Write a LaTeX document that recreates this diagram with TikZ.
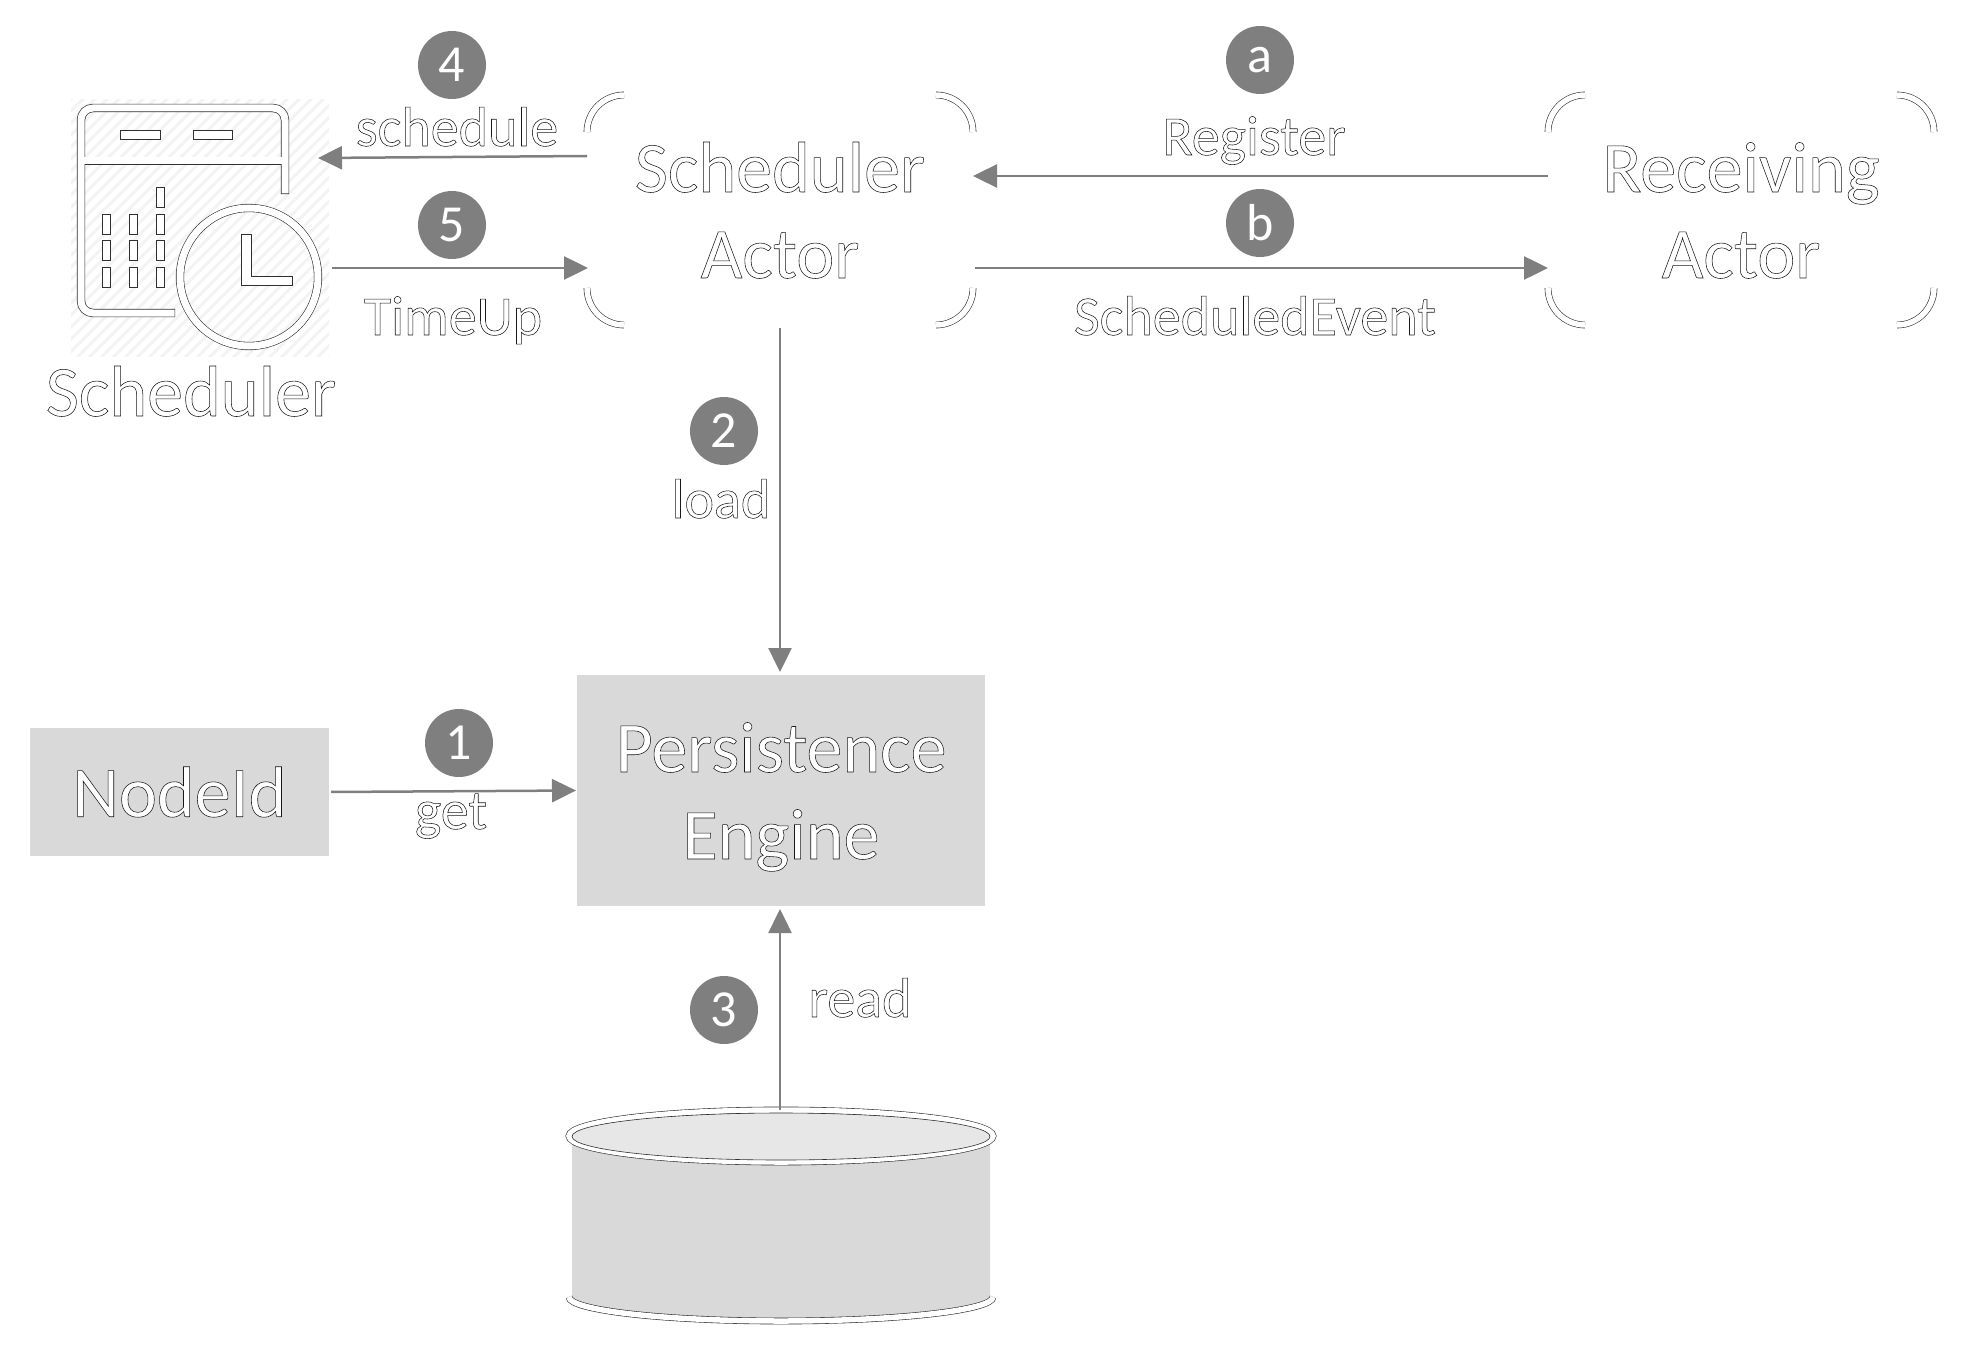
\documentclass[tikz,border=0pt]{standalone}
\usepackage{fontspec}
\setmainfont{Carlito}
\usepackage{xcolor}
\usetikzlibrary{positioning,arrows.meta,patterns.meta}

\definecolor{flowgray}{HTML}{7F7F7F}
\definecolor{boxgray}{HTML}{D9D9D9}
\definecolor{lidgray}{HTML}{E7E7E7}
\definecolor{inkline}{HTML}{303030}
\definecolor{hatchgray}{HTML}{F3F3F3}

\newcommand{\outl}[1]{\special{pdf:code q 2 Tr 0.55 w 0.1 0.1 0.1 RG 1 1 1 rg}#1\special{pdf:code Q}}
\newcommand{\lowline}[1]{\raisebox{-25pt}[0pt][0pt]{\outl{#1}}}
\newcommand{\actorcorners}[1]{%
    \foreach \cname/\sx/\sy/\astart in {north west/0/-37/180, north east/-37/0/90, south east/0/37/0, south west/37/0/270}
        \draw[band] ([shift={(\sx,\sy)}]#1.\cname) arc[start angle=\astart, delta angle=-90, radius=37];
}

\begin{document}
\begin{tikzpicture}[
    x=1pt, y=1pt,
    band/.style={draw=inkline, line width=0.6pt, double=white, double distance=5.5pt},
    thinbox/.style={draw=inkline, line width=0.7pt, fill=white},
    actor/.style={rectangle, minimum width=386pt, minimum height=230pt, align=center, inner sep=0pt, outer sep=0pt, font=\fontsize{72}{86}\selectfont},
    greybox/.style={rectangle, fill=boxgray, align=center, inner sep=0pt, outer sep=0pt, font=\fontsize{72}{86}\selectfont},
    msg/.style={anchor=base, inner sep=0pt, font=\fontsize{56}{66}\selectfont},
    badge/.style={circle, fill=flowgray, text=white, minimum size=68pt, inner sep=0pt, font=\fontsize{52}{60}\selectfont},
    flow/.style={draw=flowgray, line width=2.5pt, -{Triangle[length=24pt,width=23pt]}},
]
    \useasboundingbox (0,0) rectangle (1961,-1348);

    \node[actor] (schedActor) at (780,-210) {\lowline{Scheduler}\\\lowline{Actor}};
    \node[actor, right=575pt of schedActor] (recvActor) {\lowline{Receiving}\\\lowline{Actor}};
    \node[greybox, minimum width=408pt, minimum height=231pt, below=350pt of schedActor, xshift=1pt] (engine) {\lowline{Persistence}\\[1pt]\lowline{Engine}};
    \node[greybox, minimum width=299pt, minimum height=128pt, left=248pt of engine, yshift=-1.5pt] (nodeId) {\outl{NodeId}};
    \node[minimum width=258pt, minimum height=256pt, inner sep=0pt, outer sep=0pt, pattern={Lines[angle=45,distance=8.5pt,line width=3pt]}, pattern color=hatchgray] (schedIcon) at (200,-228) {};
    \node[minimum width=418pt, minimum height=208pt, inner sep=0pt, outer sep=0pt] (store) at (781,-1214) {};

    \actorcorners{schedActor}
    \actorcorners{recvActor}

    \foreach \bandcol/\bandw in {inkline/8.4, white/7} {
        \draw[draw=\bandcol, line width=\bandw pt, line cap=rect, rounded corners=12pt] (171,-313) -- (81,-313) -- (81,-108) -- (285,-108) -- (285,-190);
        \draw[draw=\bandcol, line width=\bandw pt] (81,-161) -- (285,-161);
    }
    \draw[thinbox] (120,-130) rectangle (160,-139);
    \draw[thinbox] (193,-130) rectangle (232,-139);
    \draw[thinbox] (156,-187) rectangle (164.5,-207);
    \foreach \barx in {102,129,156}
        \foreach \bary in {214,240,267}
            \draw[thinbox] (\barx,-\bary) rectangle ++(8.5,-20);
    \draw[band, double distance=7pt] (249,-277) circle[radius=69];
    \draw[thinbox] (241,-234) -- (251,-234) -- (251,-276) -- (292,-276) -- (292,-285) -- (241,-285) -- cycle;

    \fill[boxgray] (572,-1135) -- (572,-1297) arc[start angle=180, end angle=360, x radius=209, y radius=21] -- (990,-1135) -- cycle;
    \draw[band] (781,-1136) ellipse[x radius=212, y radius=26];
    \fill[lidgray] (781,-1136.5) ellipse[x radius=209, y radius=23.5];
    \draw[inkline, line width=0.6pt] (781,-1136.5) ellipse[x radius=209, y radius=23.5];
    \draw[band] (569,-1297) arc[start angle=180, end angle=360, x radius=212, y radius=24];

    \draw[flow] ([yshift=54pt]schedActor.west) -- ([xshift=-11pt,yshift=70pt]schedIcon.east);
    \draw[flow, shorten >=-1pt] ([xshift=3pt,yshift=-40pt]schedIcon.east) -- ([yshift=-58pt]schedActor.west);
    \draw[flow] ([yshift=34pt]recvActor.west) -- ([yshift=34pt]schedActor.east);
    \draw[flow, shorten <=2pt] ([yshift=-58pt]schedActor.east) -- ([yshift=-58pt]recvActor.west);
    \draw[flow, shorten <=3pt, shorten >=3pt] (schedActor.south) -- ([xshift=-1pt]engine.north);
    \draw[flow, shorten <=2pt, shorten >=1pt] (nodeId.east) -- (engine.west);
    \draw[flow, shorten >=3pt] ([xshift=-1pt]store.north) -- ([xshift=-1pt]engine.south);

    \node[badge] (stepFour) at (452,-65) {4};
    \node[badge] (stepFive) at (452,-225) {5};
    \node[badge] (stepA) at (1260,-60) {a};
    \node[badge] (stepB) at (1260,-223) {b};
    \node[badge] (stepTwo) at (724,-431) {2};
    \node[badge] (stepOne) at (459,-743) {1};
    \node[badge] (stepThree) at (724,-1010) {3};

    \node[msg] (schedMsg) at (457,-146) {\outl{schedule}};
    \node[msg] (timeMsg) at (453,-335) {\outl{TimeUp}};
    \node[msg] (regMsg) at (1254,-155) {\outl{Register}};
    \node[msg] (eventMsg) at (1255,-335) {\outl{ScheduledEvent}};
    \node[msg] (loadMsg) at (721,-518) {\outl{load}};
    \node[msg] (getMsg) at (451,-829) {\outl{get}};
    \node[msg] (readMsg) at (860,-1017) {\outl{read}};
    \node[anchor=base, inner sep=0pt, font=\fontsize{72}{86}\selectfont] (iconLabel) at (191,-416) {\outl{Scheduler}};
\end{tikzpicture}
\end{document}
